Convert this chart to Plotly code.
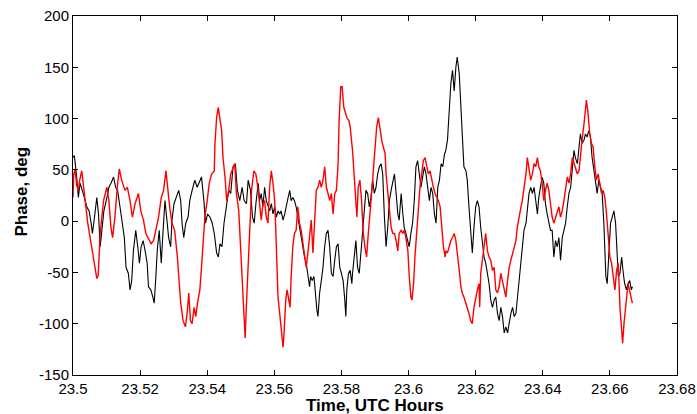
import plotly.graph_objects as go

# ---- data ----
time_red = [
23.5000,23.5002,23.5006,23.5011,23.5016,23.5020,23.5026,23.5036,23.5044,23.5051,
23.5061,23.5071,23.5075,23.5081,23.5091,23.5101,23.5107,23.5113,23.5118,23.5125,
23.5132,23.5138,23.5145,23.5155,23.5162,23.5170,23.5177,23.5185,23.5195,23.5202,
23.5210,23.5217,23.5225,23.5233,23.5240,23.5247,23.5255,23.5263,23.5270,23.5277,
23.5282,23.5288,23.5295,23.5303,23.5311,23.5315,23.5321,23.5328,23.5335,23.5341,
23.5345,23.5350,23.5355,23.5361,23.5366,23.5371,23.5378,23.5383,23.5388,23.5393,
23.5400,23.5406,23.5413,23.5421,23.5423,23.5428,23.5433,23.5438,23.5443,23.5447,
23.5453,23.5458,23.5464,23.5470,23.5477,23.5482,23.5487,23.5494,23.5500,23.5505,
23.5510,23.5513,23.5517,23.5522,23.5527,23.5532,23.5539,23.5545,23.5552,23.5556,
23.5561,23.5566,23.5571,23.5576,23.5581,23.5586,23.5591,23.5596,23.5601,23.5604,
23.5608,23.5611,23.5616,23.5620,23.5626,23.5629,23.5634,23.5638,23.5643,23.5647,
23.5650,23.5655,23.5660,23.5665,23.5670,23.5675,23.5680,23.5685,23.5690,23.5695,
23.5700,23.5705,23.5710,23.5715,23.5720,23.5725,23.5730,23.5735,23.5740,23.5745,
23.5750,23.5755,23.5760,23.5765,23.5770,23.5775,23.5780,23.5785,23.5790,23.5793,
23.5798,23.5802,23.5807,23.5811,23.5816,23.5822,23.5826,23.5833,23.5838,23.5843,
23.5846,23.5850,23.5855,23.5860,23.5865,23.5870,23.5875,23.5880,23.5885,23.5890,
23.5895,23.5900,23.5905,23.5910,23.5915,23.5920,23.5925,23.5930,23.5933,23.5938,
23.5943,23.5948,23.5953,23.5958,23.5963,23.5968,23.5972,23.5978,23.5983,23.5987,
23.5992,23.5998,23.6002,23.6007,23.6010,23.6015,23.6019,23.6024,23.6029,23.6034,
23.6039,23.6044,23.6049,23.6054,23.6059,23.6064,23.6069,23.6074,23.6079,23.6084,
23.6089,23.6094,23.6099,23.6104,23.6109,23.6111,23.6116,23.6121,23.6126,23.6131,
23.6136,23.6141,23.6145,23.6151,23.6156,23.6160,23.6165,23.6171,23.6175,23.6180,
23.6185,23.6190,23.6195,23.6200,23.6205,23.6210,23.6212,23.6215,23.6220,23.6225,
23.6230,23.6235,23.6240,23.6245,23.6250,23.6255,23.6260,23.6265,23.6270,23.6275,
23.6280,23.6285,23.6290,23.6295,23.6300,23.6305,23.6310,23.6315,23.6320,23.6324,
23.6330,23.6335,23.6339,23.6344,23.6350,23.6354,23.6359,23.6364,23.6369,23.6374,
23.6379,23.6384,23.6388,23.6393,23.6398,23.6403,23.6408,23.6413,23.6418,23.6423,
23.6428,23.6433,23.6438,23.6443,23.6448,23.6453,23.6458,23.6463,23.6468,23.6473,
23.6478,23.6483,23.6488,23.6493,23.6497,23.6503,23.6508,23.6512,23.6517,23.6523,
23.6527,23.6530,23.6535,23.6540,23.6545,23.6550,23.6555,23.6560,23.6565,23.6570,
23.6575,23.6580,23.6585,23.6590,23.6595,23.6600,23.6605,23.6610,23.6615,23.6620,
23.6625,23.6630,23.6635,23.6638,23.6642,23.6647,23.6650,23.6654,23.6658,23.6662,
23.6667]
phase_red = [
23,45,51,35,30,40,49,20,-2,-16,
-38,-56,-53,-12,20,33,20,-6,-16,4,
33,51,40,30,33,20,4,17,27,10,
1,-12,-17,-22,-19,-9,4,23,30,49,
30,14,-2,-9,-35,-54,-80,-97,-103,-87,
-70,-97,-100,-84,-93,-80,-67,-45,-19,4,
20,37,46,49,75,101,111,98,88,62,
43,20,30,46,53,56,27,10,-29,-67,
-100,-114,-80,-41,-2,30,49,46,30,14,
1,17,20,4,-2,33,49,37,20,-6,
-38,-74,-90,-103,-123,-109,-77,-67,-77,-84,
-55,-25,-12,-9,14,-2,-9,-22,-35,-45,
-31,-16,1,-31,7,30,33,40,33,40,
53,33,27,20,27,7,27,30,56,98,
131,131,111,105,101,98,92,69,40,14,
4,33,40,20,-12,-25,-35,-12,4,27,
49,69,92,101,88,79,72,66,46,27,
10,-6,-12,-12,-19,-29,-12,-9,-12,-9,
-16,-29,-54,-74,-77,-61,-35,-12,14,33,
46,59,62,53,46,49,40,33,27,23,
20,14,-6,-25,-35,-29,-31,-25,-19,-16,
-12,-19,-29,-48,-64,-70,-74,-80,-84,-90,
-97,-100,-84,-74,-67,-61,-84,-51,-38,-25,
-12,-29,-35,-38,-48,-45,-67,-70,-64,-51,
-58,-64,-74,-58,-45,-38,-31,-25,-19,-6,
7,14,20,30,46,62,53,40,46,56,
53,62,53,49,37,20,30,37,30,17,
4,-2,4,10,14,4,10,20,30,43,
37,46,62,56,53,46,49,66,79,95,
111,118,105,85,76,72,53,40,46,37,
27,30,23,7,-12,-35,-41,-54,-67,-48,
-41,-84,-109,-119,-100,-80,-74,-61,-67,-74,
-80]

time_black = [
23.5000,23.5004,23.5011,23.5016,23.5021,23.5028,23.5034,23.5041,23.5048,23.5054,
23.5058,23.5064,23.5071,23.5076,23.5081,23.5086,23.5092,23.5101,23.5107,23.5113,
23.5121,23.5127,23.5133,23.5140,23.5147,23.5153,23.5158,23.5165,23.5170,23.5175,
23.5180,23.5187,23.5193,23.5198,23.5203,23.5209,23.5215,23.5221,23.5225,23.5232,
23.5238,23.5242,23.5247,23.5251,23.5257,23.5263,23.5268,23.5274,23.5279,23.5285,
23.5291,23.5295,23.5301,23.5308,23.5315,23.5321,23.5325,23.5330,23.5336,23.5343,
23.5348,23.5355,23.5363,23.5370,23.5376,23.5383,23.5390,23.5395,23.5401,23.5408,
23.5415,23.5421,23.5428,23.5433,23.5438,23.5444,23.5450,23.5458,23.5464,23.5470,
23.5477,23.5484,23.5490,23.5497,23.5504,23.5510,23.5517,23.5522,23.5529,23.5535,
23.5540,23.5545,23.5552,23.5556,23.5561,23.5566,23.5571,23.5576,23.5581,23.5586,
23.5591,23.5596,23.5601,23.5606,23.5611,23.5616,23.5620,23.5626,23.5631,23.5636,
23.5641,23.5646,23.5650,23.5655,23.5660,23.5665,23.5670,23.5675,23.5680,23.5685,
23.5690,23.5695,23.5700,23.5705,23.5708,23.5713,23.5718,23.5722,23.5727,23.5730,
23.5735,23.5740,23.5745,23.5750,23.5755,23.5760,23.5765,23.5770,23.5775,23.5780,
23.5785,23.5790,23.5795,23.5800,23.5805,23.5810,23.5813,23.5816,23.5821,23.5826,
23.5831,23.5833,23.5838,23.5843,23.5848,23.5853,23.5858,23.5863,23.5868,23.5873,
23.5878,23.5883,23.5888,23.5893,23.5898,23.5903,23.5908,23.5913,23.5918,23.5923,
23.5928,23.5933,23.5938,23.5943,23.5948,23.5953,23.5958,23.5963,23.5968,23.5972,
23.5978,23.5983,23.5987,23.5992,23.5998,23.6002,23.6007,23.6012,23.6017,23.6022,
23.6027,23.6032,23.6037,23.6042,23.6047,23.6052,23.6057,23.6062,23.6067,23.6072,
23.6077,23.6082,23.6087,23.6092,23.6097,23.6102,23.6107,23.6111,23.6116,23.6121,
23.6126,23.6131,23.6136,23.6141,23.6145,23.6151,23.6156,23.6160,23.6165,23.6171,
23.6175,23.6180,23.6185,23.6190,23.6195,23.6200,23.6205,23.6210,23.6215,23.6220,
23.6225,23.6230,23.6235,23.6240,23.6245,23.6250,23.6255,23.6260,23.6265,23.6270,
23.6275,23.6280,23.6285,23.6290,23.6295,23.6300,23.6305,23.6310,23.6315,23.6320,
23.6324,23.6330,23.6335,23.6339,23.6344,23.6350,23.6354,23.6359,23.6364,23.6369,
23.6374,23.6379,23.6384,23.6388,23.6393,23.6398,23.6403,23.6408,23.6413,23.6418,
23.6423,23.6428,23.6433,23.6438,23.6443,23.6448,23.6453,23.6458,23.6463,23.6468,
23.6473,23.6478,23.6483,23.6488,23.6493,23.6497,23.6503,23.6508,23.6512,23.6517,
23.6523,23.6527,23.6532,23.6537,23.6542,23.6547,23.6552,23.6557,23.6562,23.6567,
23.6572,23.6577,23.6582,23.6585,23.6588,23.6592,23.6597,23.6602,23.6607,23.6612,
23.6617,23.6622,23.6625,23.6630,23.6635,23.6640,23.6644,23.6649,23.6654,23.6659,
23.6664,23.6667]
phase_black = [
62,64,43,23,37,30,23,14,10,-2,
-12,4,23,7,-25,-9,10,23,33,37,
43,33,30,14,-2,-16,-45,-51,-67,-58,
-29,-9,-25,-41,-25,-19,-29,-41,-64,-67,
-74,-80,-54,-29,-9,-41,-12,20,4,-16,
-25,1,17,23,30,20,-2,-16,-2,4,
20,30,40,33,37,43,20,-2,7,4,
-2,-12,-31,-35,-22,-25,-2,14,30,27,
53,56,30,20,33,20,17,40,30,4,
-2,17,37,20,27,14,33,20,14,10,
17,7,14,4,10,7,10,1,7,17,
23,30,20,23,20,14,4,-6,-16,-29,
-35,-41,-51,-64,-54,-58,-54,-70,-87,-93,
-70,-58,-45,-25,-12,-9,-25,-51,-54,-38,
-25,-22,-45,-51,-58,-77,-93,-67,-51,-48,
-61,-51,-35,-19,-45,-51,-31,-12,7,30,
27,14,23,40,27,33,46,53,56,46,
4,-25,-6,20,30,40,46,27,7,1,
27,7,-6,-12,-19,-25,-12,-2,20,53,
59,46,33,43,53,46,30,20,33,27,
7,-2,33,40,56,53,65,69,79,105,
134,147,127,150,160,144,111,79,53,49,
40,14,-6,-31,-6,14,20,14,-6,-19,
-35,-41,-51,-61,-77,-84,-77,-74,-90,-97,
-84,-93,-109,-103,-109,-97,-90,-84,-93,-90,
-77,-51,-38,-25,-9,-2,10,27,33,27,
33,17,7,23,33,43,37,17,7,-2,
-9,-9,-35,-19,-25,-16,-38,-16,-9,-2,
14,27,33,53,69,62,56,72,85,76,
79,85,82,88,82,62,49,37,27,40,
33,27,-2,-35,-54,-61,-29,-2,4,10,
-2,-29,-54,-51,-35,-51,-61,-67,-61,-58,
-67,-64]

x_tick_values = [23.5, 23.52, 23.54, 23.56, 23.58, 23.6, 23.62, 23.64, 23.66, 23.68]
x_tick_labels = ["23.5", "23.52", "23.54", "23.56", "23.58", "23.6", "23.62", "23.64", "23.66", "23.68"]
y_tick_values = [-150, -100, -50, 0, 50, 100, 150, 200]
y_tick_labels = ["-150", "-100", "-50", "0", "50", "100", "150", "200"]
x_title = "Time, UTC Hours"
y_title = "Phase, deg"

FONT = "Liberation Sans, Arial, sans-serif"

fig = go.Figure()
fig.add_trace(go.Scatter(x=time_black, y=phase_black, mode="lines",
                         line=dict(color="black", width=1.1), showlegend=False))
fig.add_trace(go.Scatter(x=time_red, y=phase_red, mode="lines",
                         line=dict(color="#ff0000", width=1.4), showlegend=False))

fig.update_layout(
    width=697, height=414,
    margin=dict(l=73, r=20, t=16, b=39, autoexpand=False),
    paper_bgcolor="white", plot_bgcolor="white",
    font=dict(family=FONT, size=15, color="black"),
    showlegend=False,
)
fig.update_xaxes(
    range=[23.5, 23.68], tickvals=x_tick_values, ticktext=x_tick_labels,
    ticks="inside", ticklen=5, tickcolor="black", tickwidth=1,
    showline=True, linecolor="black", linewidth=1, mirror="allticks",
    showgrid=False, zeroline=False, automargin=False, ticklabeloverflow="allow",
    tickfont=dict(family=FONT, size=15, color="black"),
)
fig.update_yaxes(
    range=[-150, 200], tickvals=y_tick_values, ticktext=y_tick_labels,
    ticks="inside", ticklen=5, tickcolor="black", tickwidth=1,
    showline=True, linecolor="black", linewidth=1, mirror="allticks",
    showgrid=False, zeroline=False, automargin=False, ticklabeloverflow="allow",
    tickfont=dict(family=FONT, size=15, color="black"),
)
fig.add_annotation(text="<b>" + x_title + "</b>", xref="paper", yref="paper",
                   x=0.5, y=-0.084, xanchor="center", yanchor="middle", showarrow=False,
                   font=dict(family=FONT, size=17, color="black"))
fig.add_annotation(text="<b>" + y_title + "</b>", xref="paper", yref="paper",
                   x=-0.085, y=0.51, xanchor="center", yanchor="middle", textangle=-90,
                   showarrow=False, font=dict(family=FONT, size=17, color="black"))

# remove the browser's default 8px page margin so the figure fills the window exactly
fig.write_html("out.html",
               config={"displayModeBar": False},
               post_script="document.body.style.margin='0';document.body.style.overflow='hidden';")
